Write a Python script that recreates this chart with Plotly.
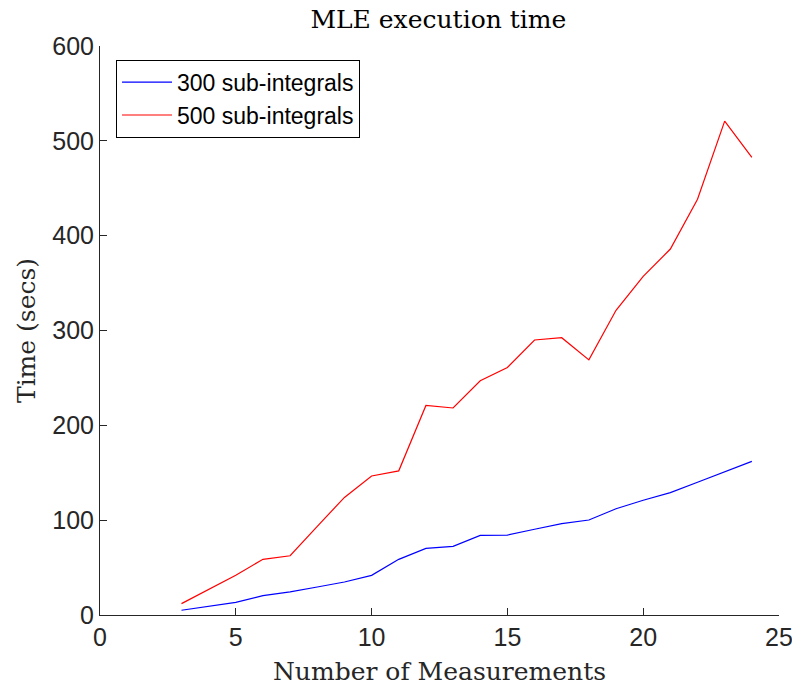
import plotly.graph_objects as go

# Number of measurements and MLE run times (seconds)
measurements = list(range(3, 25))
time_300 = [5, 9, 13.4, 20.4, 24.3, 29.5, 34.8, 41.8, 58.7, 70.3, 72.4, 84, 84.3,
            90.4, 96.3, 100.2, 112, 121, 129, 140, 151, 162]
time_500 = [12, 26.7, 42, 58.7, 62.5, 93.5, 124, 146.6, 152, 221, 218.3, 247, 261,
            290, 292.4, 269, 321.3, 357, 385.9, 438.4, 520.8, 482.5]

series_names = ["300 sub-integrals", "500 sub-integrals"]
series_colors = ["#0000ff", "#ff0000"]

x_ticks = [0, 5, 10, 15, 20, 25]
y_ticks = [0, 100, 200, 300, 400, 500, 600]

axis_color = "#262626"
serif = "DejaVu Serif, Liberation Serif, serif"
sans = "Liberation Sans, Arial, sans-serif"

fig = go.Figure()
for name, ys, col in zip(series_names, [time_300, time_500], series_colors):
    fig.add_trace(go.Scatter(x=measurements, y=ys, mode="lines", name=name,
                             line=dict(color=col, width=1.2)))

fig.update_layout(
    width=792, height=688,
    margin=dict(l=100, r=13, t=46, b=73, autoexpand=False),
    paper_bgcolor="white", plot_bgcolor="white",
    title=dict(text="MLE execution time", x=0.5535, xanchor="center",
               y=0.972, yanchor="middle",
               font=dict(family=serif, size=25, color="black")),
    legend=dict(x=0.0236, y=0.976, xanchor="left", yanchor="top",
                bgcolor="white", bordercolor="black", borderwidth=1,
                font=dict(family=sans, size=23, color="black"),
                tracegroupgap=0, itemwidth=50),
    showlegend=True,
)

fig.update_xaxes(
    range=[0, 25], tickvals=x_ticks, ticktext=[str(v) for v in x_ticks],
    showgrid=False, zeroline=False, showline=True, linecolor=axis_color, linewidth=1,
    ticks="inside", ticklen=7, tickcolor=axis_color, automargin=False,
    ticklabeloverflow="allow",
    tickfont=dict(family=sans, size=25, color=axis_color),
    title=dict(text="Number of Measurements", standoff=12,
               font=dict(family=serif, size=25, color=axis_color)),
)
fig.update_yaxes(
    range=[0, 600], tickvals=y_ticks, ticktext=[str(v) for v in y_ticks],
    showgrid=False, zeroline=False, showline=True, linecolor=axis_color, linewidth=1,
    ticks="inside", ticklen=7, tickcolor=axis_color, automargin=False,
    ticklabeloverflow="allow",
    tickfont=dict(family=sans, size=25, color=axis_color),
    title=dict(text="Time (secs)", standoff=9,
               font=dict(family=serif, size=25, color=axis_color)),
)

fig.write_html("out.html")
